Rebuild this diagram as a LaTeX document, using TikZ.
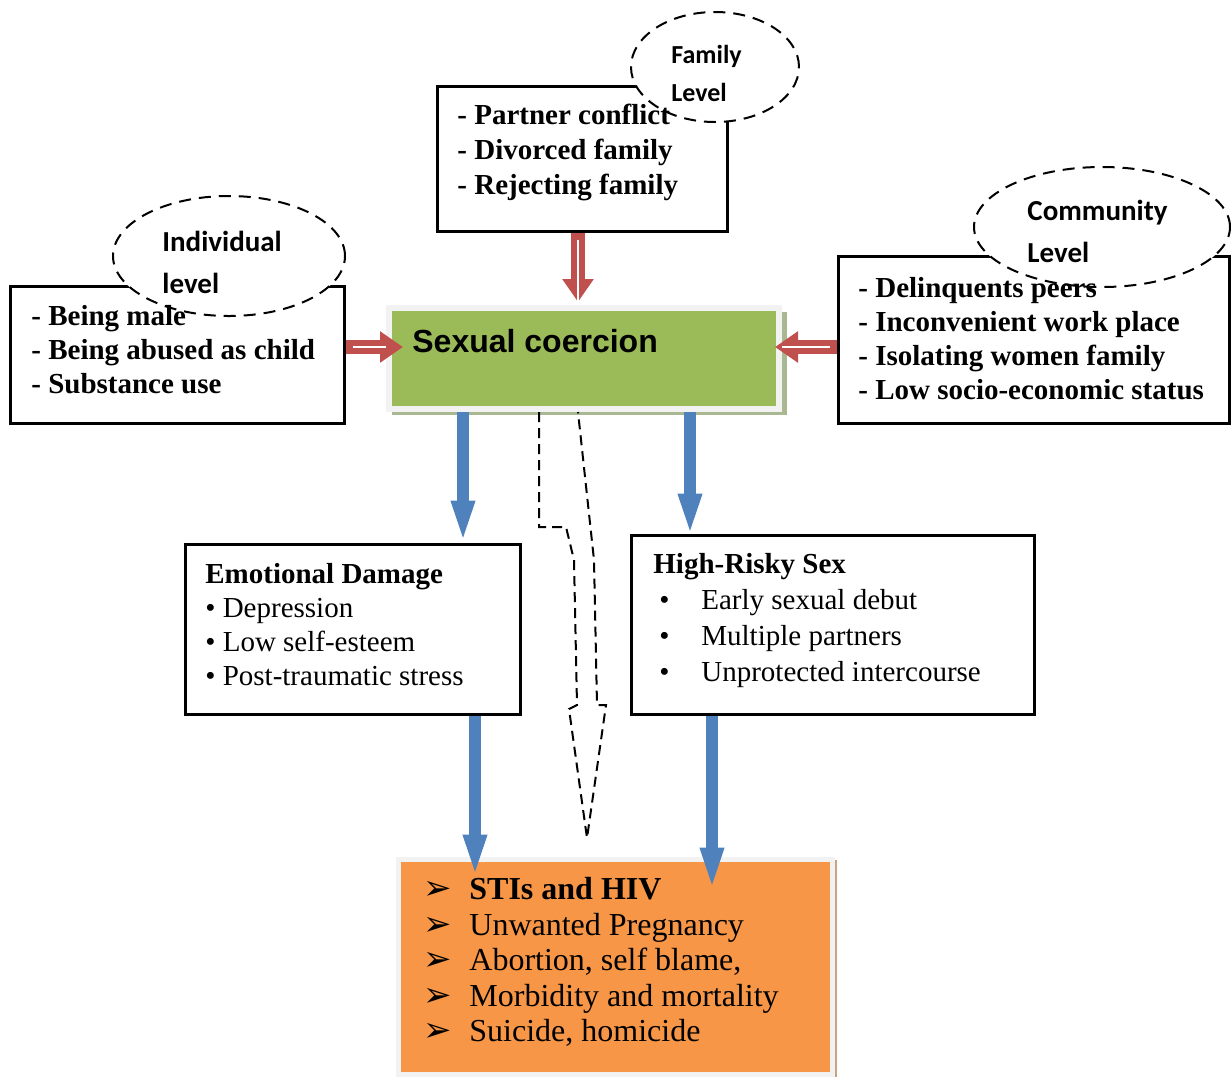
\documentclass[tikz,border=0pt]{standalone}
\usepackage{fontspec}
\setmainfont{Liberation Serif}
\newfontfamily\coercionfont{Liberation Sans}
\newfontfamily\levelfont{Carlito}
\newfontfamily\tipfont{DejaVu Sans}
\usetikzlibrary{arrows.meta,shapes.geometric}
\definecolor{coerciongreen}{HTML}{9BBB59}
\definecolor{shadegreen}{HTML}{A9B891}
\definecolor{outcomeorange}{HTML}{F79646}
\definecolor{shadeorange}{HTML}{C9A27E}
\definecolor{pathblue}{HTML}{4F81BD}
\definecolor{pushred}{HTML}{C0504D}
\definecolor{framegray}{HTML}{F2F2F2}
\pgfdeclarelayer{frames}
\pgfdeclarelayer{bubbles}
\pgfsetlayers{frames,bubbles,main}
\newcommand{\tipbullet}{\makebox[23pt][l]{\tipfont\fontsize{17}{17}\selectfont ➢}}
\newcommand{\riskbullet}{\hspace*{3pt}\makebox[21pt][l]{•}}

\begin{document}
\begin{tikzpicture}[x=0.5pt, y=-0.5pt,
      factorbox/.style={draw, line width=1.5pt},
      levelbubble/.style={ellipse, draw, dash pattern=on 6pt off 4pt, fill=white, line width=1pt},
      leveltext/.style={inner sep=0pt, anchor=west, align=left,
        font=\levelfont\bfseries\fontsize{14.5}{21}\selectfont},
      factortext/.style={inner sep=0pt, anchor=west, align=left,
        font=\bfseries\fontsize{14.5}{17}\selectfont},
      listtext/.style={inner sep=0pt, anchor=west, align=left,
        font=\fontsize{14.5}{17}\selectfont},
      pushflow/.style={draw=pushred, line width=7pt, -{Triangle[length=11.5pt,width=15pt]},
        postaction={draw=white, line width=0.8pt, -, shorten <=3.5pt, shorten >=0pt}},
      riskflow/.style={draw=pathblue, line width=6pt, -{Triangle[length=24pt,width=10pt]}},
      dashedpath/.style={draw, line width=1pt, dash pattern=on 5pt off 3pt}]
  \useasboundingbox (0,0) rectangle (1231,1077);

  \begin{pgfonlayer}{frames}
    \node[factorbox, minimum width=167pt, minimum height=68.5pt] (individual) at (177,354.5) {};
    \node[factorbox, minimum width=145pt, minimum height=72.5pt] (family) at (582,158.5) {};
    \node[factorbox, minimum width=195.5pt, minimum height=83.5pt] (community) at (1033.5,339.5) {};
    \node[factorbox, minimum width=167.5pt, minimum height=85pt] (emotional) at (352.5,629) {};
    \node[factorbox, minimum width=201.5pt, minimum height=89.5pt] (highrisk) at (832.5,624.5) {};
    \fill[shadegreen] (392,312) rectangle (787,415);
    \fill[shadeorange] (400,860) rectangle (837,1077);
  \end{pgfonlayer}

  \begin{pgfonlayer}{bubbles}
    \node[levelbubble, minimum width=116pt, minimum height=60pt] (individuallevel) at (229,256) {};
    \node[levelbubble, minimum width=84pt, minimum height=55pt] (familylevel) at (715,67) {};
    \node[levelbubble, minimum width=128pt, minimum height=60pt] (communitylevel) at (1102,227) {};
  \end{pgfonlayer}
  \node[leveltext] (individuallabel) at (162,262) {Individual\\level};
  \node[leveltext, font=\levelfont\bfseries\fontsize{13}{19}\selectfont] (familylabel) at (671,73) {Family\\Level};
  \node[leveltext] (communitylabel) at (1027,231) {Community\\Level};

  \node[factortext] (individualtext) at (31,350) {- Being male\\- Being abused as child\\- Substance use};
  \node[factortext, font=\bfseries\fontsize{14.5}{17.5}\selectfont] (familytext) at (457,152)
    {- Partner conflict\\- Divorced family\\- Rejecting family};
  \node[factortext] (communitytext) at (858,339)
    {- Delinquents peers\\- Inconvenient work place\\- Isolating women family\\- Low socio-economic status};

  \node[draw=framegray, fill=coerciongreen, line width=3pt, minimum width=195pt, minimum height=50.5pt]
    (coercion) at (584,358.5) {};
  \node[inner sep=0pt, anchor=west, font=\coercionfont\bfseries\fontsize{16}{19}\selectfont]
    (coerciontext) at (412,341) {Sexual coercion};

  \node[listtext] (emotionaltext) at (205,624.5)
    {\textbf{Emotional Damage}\\• Depression\\• Low self-esteem\\• Post-traumatic stress};
  \node[listtext, font=\fontsize{14.5}{18}\selectfont] (highrisktext) at (653,621)
    {\textbf{High-Risky Sex}\\\riskbullet Early sexual debut\\\riskbullet Multiple partners\\\riskbullet Unprotected intercourse};

  \node[draw=framegray, fill=outcomeorange, line width=2.5pt, minimum width=217pt, minimum height=107.5pt]
    (outcome) at (615.5,966.5) {};
  \node[listtext, font=\fontsize{16}{17.75}\selectfont] (outcometext) at (423,962)
    {\tipbullet\textbf{STIs and HIV}\\\tipbullet Unwanted Pregnancy\\\tipbullet Abortion, self blame,\\
     \tipbullet Morbidity and mortality\\\tipbullet Suicide, homicide};

  \draw[pushflow, shorten >=-8.5pt] ([yshift=5.75pt]coercion.west -| individual.east) -- ([yshift=5.75pt]coercion.west);
  \draw[pushflow, shorten >=-3.5pt] ([yshift=5.75pt]coercion.east -| community.west) -- ([yshift=5.75pt]coercion.east);
  \draw[pushflow, shorten >=1.5pt] ([xshift=-2pt]family.south) -- ([xshift=-2pt]family.south |- coercion.north);

  \draw[riskflow, shorten >=-3pt] ([xshift=-60.5pt]coercion.south) -- ([xshift=55.25pt]emotional.north);
  \draw[riskflow, shorten >=-4pt] ([xshift=53pt]coercion.south) -- ([xshift=-71.25pt]highrisk.north);
  \draw[riskflow, shorten >=-13pt] ([xshift=61.25pt]emotional.south) -- ([xshift=-70.25pt]outcome.north);
  \draw[riskflow, shorten >=-19.5pt] ([xshift=-60.25pt]highrisk.south) -- ([xshift=48.25pt]outcome.north);

  \draw[dashedpath] (539,412) -- (539,527) -- (566,527) -- (574,560) -- (577,705) -- (569,709)
    -- (587,838) -- (606,705) -- (597,705) -- (594,560) -- (578,412);
\end{tikzpicture}
\end{document}
